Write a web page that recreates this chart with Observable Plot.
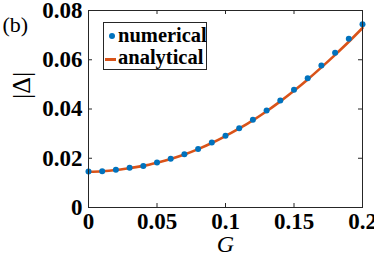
<!DOCTYPE html>
<html><head><meta charset="utf-8">
<script src="https://cdn.jsdelivr.net/npm/d3@7"></script>
<script src="https://cdn.jsdelivr.net/npm/@observablehq/plot@0.6"></script>
<style>
body{margin:0;background:#fff;}
#wrap{position:relative;width:374px;height:253px;overflow:hidden;}
#wrap svg{overflow:visible;}
#legend{position:absolute;left:103px;top:22px;width:104px;height:48px;border:1px solid #262626;background:#fff;
 font-family:"Liberation Serif",serif;font-weight:bold;font-size:20.5px;line-height:22px;box-sizing:border-box;padding-top:1px;}
#legend .row{position:relative;height:22px;padding-left:14px;white-space:nowrap;}
.dot{position:absolute;left:5px;top:9px;width:6px;height:6px;border-radius:50%;background:#0072BD;}
.ln{position:absolute;left:1px;top:12px;width:11px;height:2.5px;background:#D95319;}
</style></head>
<body><div id="wrap"><div id="legend"><div class="row"><span class="dot"></span>numerical</div><div class="row"><span class="ln"></span>analytical</div></div></div>
<script>
const G = [0,0.01,0.02,0.03,0.04,0.05,0.06,0.07,0.08,0.09,0.10,0.11,0.12,0.13,0.14,0.15,0.16,0.17,0.18,0.19,0.20];
const numerical = [0.0146,0.0147,0.0153,0.0161,0.0169,0.0183,0.0198,0.0216,0.0238,0.0264,0.0291,0.0322,0.0356,0.0394,0.0435,0.0478,0.0525,0.0577,0.0628,0.0685,0.0744];
const analytical = [0.0145,0.0147,0.0152,0.0160,0.0169,0.0182,0.0197,0.0215,0.0237,0.0262,0.0290,0.0321,0.0354,0.0391,0.0431,0.0474,0.0520,0.0569,0.0620,0.0673,0.0729];
const xTicks = [0,0.05,0.1,0.15,0.2];
const yTicks = [0,0.02,0.04,0.06,0.08];
const xTickLabels = ["0","0.05","0.1","0.15","0.2"];
const yTickLabels = ["0","0.02","0.04","0.06","0.08"];

const num = G.map((g,i)=>({G:g, v:numerical[i]}));
const ana = G.map((g,i)=>({G:g, v:analytical[i]}));
const fmtX = d => xTickLabels[xTicks.indexOf(d)] ?? "";
const fmtY = d => yTickLabels[yTicks.indexOf(d)] ?? "";
const frameC = "#262626";

const chart = Plot.plot({
  width:374, height:253,
  marginLeft:88, marginRight:12, marginTop:10, marginBottom:46,
  style:{fontFamily:"Liberation Serif, serif", fontSize:"23px", color:"#000", background:"#fff"},
  x:{domain:[0,0.2]},
  y:{domain:[0,0.08]},
  marks:[
    Plot.axisX(xTicks,{anchor:"bottom", tickSize:0, tickPadding:5, tickFormat:fmtX, fontWeight:"bold", fontSize:23, fill:"#000", label:null}),
    Plot.axisY(yTicks,{anchor:"left", tickSize:0, tickPadding:6, tickFormat:fmtY, fontWeight:"bold", fontSize:23, fill:"#000", label:null}),
    Plot.tickX(xTicks,{x:d=>d, insetTop:193, stroke:frameC}),
    Plot.tickX(xTicks,{x:d=>d, insetBottom:193, stroke:frameC}),
    Plot.tickY(yTicks,{y:d=>d, insetRight:270, stroke:frameC}),
    Plot.tickY(yTicks,{y:d=>d, insetLeft:270, stroke:frameC}),
    Plot.line(ana,{x:"G", y:"v", stroke:"#D95319", strokeWidth:2.6, curve:"catmull-rom"}),
    Plot.dot(num,{x:"G", y:"v", r:3, fill:"#0072BD", stroke:"none"}),
    Plot.frame({stroke:frameC}),
    Plot.text(["G"],{frameAnchor:"bottom", dy:44, text:d=>d, fontStyle:"italic", fontSize:24, fill:"#000"}),
    Plot.text(["|Δ|"],{frameAnchor:"left", dx:-67, dy:-10, rotate:-90, text:d=>d, fontSize:26, fill:"#000"}),
    Plot.text(["(b)"],{frameAnchor:"top-left", dx:-86, dy:6, text:d=>d, fontSize:22, fill:"#000", textAnchor:"start"})
  ]
});
document.getElementById("wrap").prepend(chart);
</script>
</body></html>
